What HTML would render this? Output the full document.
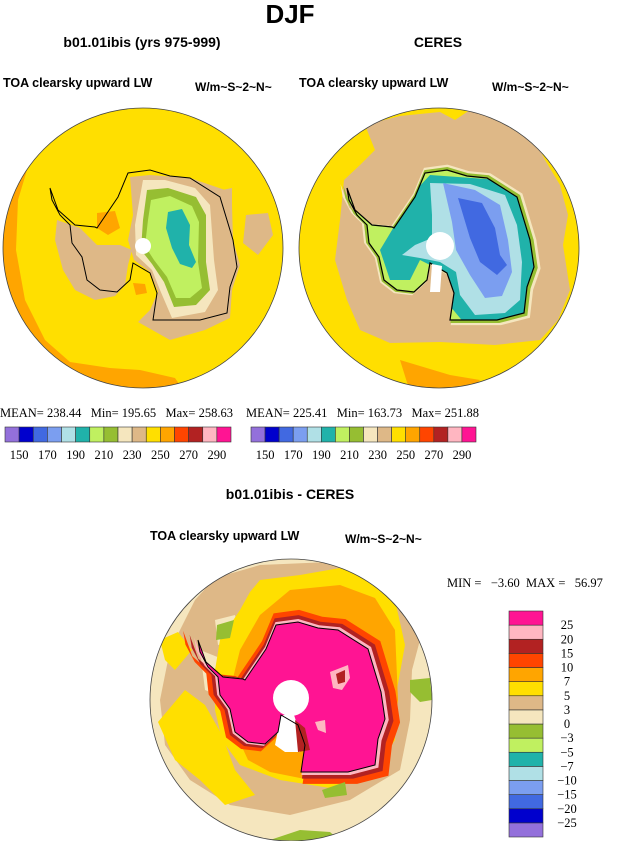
<!DOCTYPE html>
<html><head><meta charset="utf-8"><style>
html,body{margin:0;padding:0;background:#fff}
svg{display:block}
.b{font-family:"Liberation Sans",sans-serif;font-weight:bold}
.s{font-family:"Liberation Serif",serif;font-size:12.5px}
</style></head><body>
<svg width="632" height="841" viewBox="0 0 632 841">
<defs>
<path id="coast" d="M-93,-58 L-85,-36 L-68,-21 L-48,-19 L-46,-18 L-25,-49 L-15,-73 L7,-76 L27,-70 L47,-68 L77,-49 L90,-6 L94,21 L87,41 L84,67 L57,74 L10,74 L14,47 L7,27 L-10,17 L-13,34 L-26,46 L-43,44 L-56,34 L-61,11 L-71,-3 L-73,-21 L-83,-31 L-91,-46 Z"/>
<clipPath id="c1"><circle cx="143" cy="248" r="140"/></clipPath>
<clipPath id="c2"><circle cx="439" cy="248" r="140"/></clipPath>
<clipPath id="c3"><circle cx="291" cy="700" r="141"/></clipPath>
<clipPath id="k2"><use href="#coast" x="440" y="246"/></clipPath>
<clipPath id="k3"><use href="#coast" x="291" y="698"/></clipPath>
</defs>

<text class="b" x="290" y="23" font-size="26" text-anchor="middle">DJF</text>

<!-- left map -->
<g>
<text class="b" x="142" y="47" font-size="14" text-anchor="middle">b01.01ibis (yrs 975-999)</text>
<text class="b" x="3" y="87" font-size="12.5">TOA clearsky upward LW</text>
<text class="b" x="195" y="91" font-size="12">W/m~S~2~N~</text>
<g clip-path="url(#c1)">
<circle cx="143" cy="248" r="140" fill="#FFDF00"/>
<path d="M0,150 L30,160 L18,200 L16,250 L25,300 L45,340 L70,362 L110,368 L140,370 L175,378 L190,400 L0,400 Z" fill="#FFA500"/>
<path d="M97,213 L115,211 L120,228 L108,235 L97,228 Z" fill="#FFA500"/>
<path d="M133,283 L145,284 L147,293 L136,295 Z" fill="#FFA500"/>
<path d="M57,220 L80,228 L97,245 L120,245 L132,250 L128,265 L125,285 L115,296 L95,300 L75,290 L63,270 L55,240 Z" fill="#DEB887"/>
<path d="M130,177 L150,175 L190,178 L225,190 L232,205 L233,240 L240,265 L232,290 L230,318 L205,330 L170,340 L138,322 L150,310 L158,292 L150,272 L134,260 L128,240 L133,215 Z" fill="#DEB887"/>
<path d="M246,215 L268,213 L273,235 L258,255 L243,243 Z" fill="#DEB887"/>
<path d="M222,190 L232,188 L232,205 L224,205 Z" fill="#DEB887"/>
<path d="M143,180 L165,180 L195,188 L210,205 L214,260 L218,290 L205,312 L172,318 L160,290 L152,270 L136,255 L135,225 Z" fill="#F5E6BE"/>
<path d="M147,190 L168,188 L196,197 L206,215 L206,262 L210,290 L196,305 L174,307 L164,282 L152,264 L141,250 L143,220 Z" fill="#96BE32"/>
<path d="M151,200 L170,196 L192,206 L199,222 L198,262 L202,288 L190,298 L176,298 L167,277 L154,260 L145,246 L148,220 Z" fill="#C0F060"/>
<path d="M168,212 L182,209 L190,225 L189,245 L196,262 L192,268 L180,264 L172,248 L166,228 Z" fill="#20B2AA"/>
<use href="#coast" x="143" y="246" fill="none" stroke="#000" stroke-width="1"/>
<circle cx="143" cy="246" r="8" fill="#fff"/>
</g>
<circle cx="143" cy="248" r="140" fill="none" stroke="#444" stroke-width="0.8"/>
</g>

<!-- right map -->
<g>
<text class="b" x="438" y="47" font-size="14" text-anchor="middle">CERES</text>
<text class="b" x="299" y="87" font-size="12.5">TOA clearsky upward LW</text>
<text class="b" x="492" y="91" font-size="12">W/m~S~2~N~</text>
<g clip-path="url(#c2)">
<circle cx="439" cy="248" r="140" fill="#FFDF00"/>
<path d="M365,125 L400,116 L440,112 L455,120 L470,110 L505,120 L530,130 L545,160 L560,185 L568,215 L563,245 L570,290 L558,320 L540,340 L495,345 L440,342 L390,343 L360,330 L347,300 L335,260 L340,220 L344,180 L360,165 L375,150 Z" fill="#DEB887"/>
<path d="M400,360 L450,375 L480,380 L470,392 L410,392 Z" fill="#FFA500"/>
<use href="#coast" transform="translate(440,246) scale(1.07)" fill="#F5E6BE"/>
<use href="#coast" transform="translate(440,246) scale(1.04)" fill="#96BE32"/>
<use href="#coast" x="440" y="246" fill="#C0F060"/>
<g clip-path="url(#k2)">
<path d="M380,250 L395,225 L402,205 L430,175 L500,180 L530,195 L540,240 L535,300 L520,330 L470,330 L445,300 L440,270 L420,260 L410,280 L390,280 Z" fill="#20B2AA"/>
<path d="M430,183 L470,184 L505,195 L517,225 L522,262 L520,300 L505,313 L475,315 L460,295 L456,272 L440,262 L420,258 L402,255 L415,245 L432,238 L432,215 Z" fill="#B0E0E6"/>
<path d="M443,183 L475,190 L500,205 L508,240 L512,272 L502,296 L485,298 L470,275 L456,250 L452,222 Z" fill="#7B9EF0"/>
<path d="M458,198 L482,203 L495,228 L500,255 L507,265 L497,275 L480,262 L470,238 Z" fill="#4169E1"/>
</g>
<use href="#coast" x="440" y="246" fill="none" stroke="#000" stroke-width="1.2"/>
<path d="M432,264 L442,266 L440,292 L430,292 Z" fill="#fff"/>
<circle cx="440" cy="246" r="14" fill="#fff"/>
</g>
<circle cx="439" cy="248" r="140" fill="none" stroke="#444" stroke-width="0.8"/>
</g>

<!-- stats -->
<text class="s" x="0" y="417">MEAN= 238.44&#160;&#160; Min= 195.65&#160;&#160; Max= 258.63</text>
<text class="s" x="246" y="417">MEAN= 225.41&#160;&#160; Min= 163.73&#160;&#160; Max= 251.88</text>
<g id="cb1"></g>
<g id="cb2"></g>

<!-- bottom -->
<g>
<text class="b" x="290" y="499" font-size="14" text-anchor="middle">b01.01ibis - CERES</text>
<text class="b" x="150" y="540" font-size="12.5">TOA clearsky upward LW</text>
<text class="b" x="345" y="543" font-size="12">W/m~S~2~N~</text>
<text class="s" x="447" y="587">MIN =&#160;&#160; −3.60&#160; MAX =&#160;&#160; 56.97</text>
<g clip-path="url(#c3)">
<circle cx="291" cy="700" r="141" fill="#F5E6BE"/>
<path d="M215,578 L260,565 L330,562 L375,575 L405,600 L420,640 L412,670 L410,720 L400,770 L350,800 L290,815 L230,805 L190,780 L165,745 L160,700 L170,650 L195,600 Z" fill="#DEB887"/>
<path d="M215,620 L235,615 L240,640 L218,645 Z" fill="#F5E6BE"/>
<path d="M200,650 L225,660 L228,700 L205,690 Z" fill="#F5E6BE"/>
<path d="M160,640 L178,632 L192,650 L175,670 L165,660 Z" fill="#FFDF00"/>
<path d="M158,722 L185,690 L205,705 L222,735 L235,770 L255,795 L225,805 L200,780 L175,760 Z" fill="#FFDF00"/>
<path d="M250,592 L260,580 L300,575 L340,568 L375,580 L395,600 L405,645 L395,700 L395,740 L375,770 L330,788 L280,780 L240,765 L222,740 L215,710 L215,670 L220,640 L240,610 Z" fill="#FFDF00"/>
<path d="M290,590 L340,585 L375,598 L395,630 L398,700 L392,745 L365,775 L310,780 L270,772 L248,760 L232,725 L230,690 L240,650 L260,615 Z" fill="#FFA500"/>
<use href="#coast" transform="translate(291,698) scale(1.16)" fill="#FF4500"/>
<use href="#coast" transform="translate(291,698) scale(1.09)" fill="#B22222"/>
<use href="#coast" transform="translate(291,698) scale(1.04)" fill="#FFB6C1"/>
<use href="#coast" x="291" y="698" fill="#FF1493"/>
<path d="M330,672 L348,665 L350,678 L342,690 L333,688 Z" fill="#FFB6C1"/>
<path d="M336,674 L345,670 L345,682 L338,684 Z" fill="#B22222"/>
<path d="M315,722 L325,720 L326,733 L318,730 Z" fill="#FFB6C1"/>
<path d="M281,716 L293,712 L300,733 L300,752 L285,752 L275,745 Z" fill="#fff"/>
<path d="M295,720 L305,728 L310,750 L298,752 Z" fill="#B22222"/>
<path d="M217,625 L234,620 L230,638 L216,640 Z" fill="#96BE32"/>
<path d="M410,680 L430,678 L432,700 L420,702 L410,692 Z" fill="#96BE32"/>
<path d="M322,790 L345,782 L347,795 L325,798 Z" fill="#96BE32"/>
<path d="M270,840 L300,830 L330,832 L340,841 Z" fill="#96BE32"/>
<use href="#coast" x="291" y="698" fill="none" stroke="#000" stroke-width="1"/>
<circle cx="291" cy="698" r="18" fill="#fff"/>
</g>
<circle cx="291" cy="700" r="141" fill="none" stroke="#444" stroke-width="0.8"/>
</g>
<g id="cb3"></g>
</svg>
<script>
const colors = ["#9370DB","#0000CD","#4169E1","#7B9EF0","#B0E0E6","#20B2AA","#C0F060","#96BE32","#F5E6BE","#DEB887","#FFDF00","#FFA500","#FF4500","#B22222","#FFB6C1","#FF1493"];
const absLevels = [150,160,170,180,190,200,210,220,230,240,250,260,270,280,290];
const absTickLabels = ["150","170","190","210","230","250","270","290"];
const diffLevels = [-25,-20,-15,-10,-7,-5,-3,0,3,5,7,10,15,20,25];
const diffTickLabels = ["−25","−20","−15","−10","−7","−5","−3","0","3","5","7","10","15","20","25"];
const NS = "http://www.w3.org/2000/svg";
function hbar(id, x0, y0, w, h){
  const g = document.getElementById(id);
  const n = absLevels.length + 1;
  const bw = w / n;
  for (let i = 0; i < n; i++){
    const r = document.createElementNS(NS,"rect");
    
    
    r.setAttribute("x", x0 + i*bw); r.setAttribute("y", y0);
    r.setAttribute("width", bw); r.setAttribute("height", h);
    r.setAttribute("fill", colors[i]); r.setAttribute("stroke", "#333"); r.setAttribute("stroke-width", "0.6");
    g.appendChild(r);
  }
  absTickLabels.forEach((lab) => {
    const idx = absLevels.indexOf(+lab);
    const t = document.createElementNS(NS,"text");
    
    
    t.setAttribute("x", x0 + (idx+1)*bw); t.setAttribute("y", y0 + h + 17);
    t.setAttribute("text-anchor","middle"); t.setAttribute("class","s");
    t.textContent = lab; g.appendChild(t);
  });
}
hbar("cb1", 5, 427, 226, 15);
hbar("cb2", 251, 427, 225, 15);
(function(){
  const g = document.getElementById("cb3");
  const x0 = 509, y0 = 611, w = 34, h = 226;
  const n = diffLevels.length + 1, bh = h / n;
  for (let i = 0; i < n; i++){
    const r = document.createElementNS(NS,"rect");
    
    
    r.setAttribute("x", x0); r.setAttribute("y", y0 + (n-1-i)*bh);
    r.setAttribute("width", w); r.setAttribute("height", bh);
    r.setAttribute("fill", colors[i]); r.setAttribute("stroke", "#333"); r.setAttribute("stroke-width", "0.6");
    g.appendChild(r);
  }
  diffTickLabels.forEach((lab, i) => {
    const t = document.createElementNS(NS,"text");
    
    
    t.setAttribute("x", x0 + w + 24); t.setAttribute("y", y0 + (n-1-i)*bh + 4);
    t.setAttribute("text-anchor","middle"); t.setAttribute("class","s");
    t.textContent = lab; g.appendChild(t);
  });
})();
</script>
</body></html>
